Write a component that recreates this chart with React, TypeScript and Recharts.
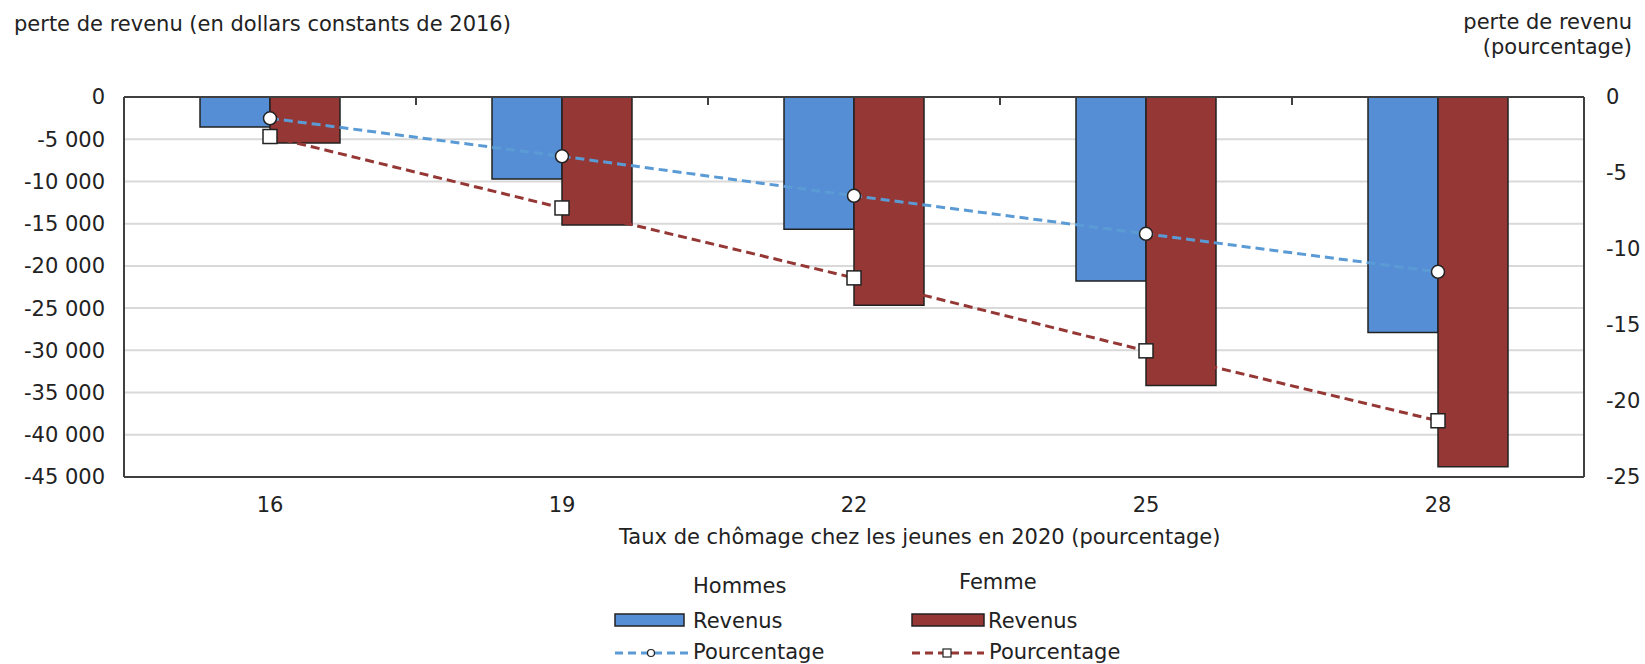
import React from 'react';
import { ComposedChart, Bar, Line, XAxis, YAxis, CartesianGrid, ReferenceLine } from 'recharts';

const categories = ['16', '19', '22', '25', '28'];
const hommesRevenus = [-3550, -9700, -15650, -21800, -27900];
const femmeRevenus = [-5450, -15150, -24650, -34150, -43800];
const hommesPct = [-1.4, -3.9, -6.5, -9.0, -11.5];
const femmePct = [-2.6, -7.3, -11.9, -16.7, -21.3];
const leftTicks = [0, -5000, -10000, -15000, -20000, -25000, -30000, -35000, -40000, -45000];
const rightTicks = [0, -5, -10, -15, -20, -25];

const BLUE = '#558ed5';
const BLUE_LINE = '#5b9bd5';
const RED = '#953735';
const AXIS = '#404040';
const TEXT = '#222';
const FONT = '"DejaVu Sans", Verdana, sans-serif';

const LEFT_MIN = -45000;
// short tick marks hanging from the zero line, about 8px of the 380px plot
const TICK_LEN = (-LEFT_MIN * 8) / 380;

const chartData = categories.map((c, i) => ({
  cat: c,
  hRev: hommesRevenus[i],
  fRev: femmeRevenus[i],
  hPct: hommesPct[i],
  fPct: femmePct[i],
}));

const fmtThousands = (v: number) => {
  const s = String(Math.abs(v)).replace(/\B(?=(\d{3})+(?!\d))/g, ' ');
  return v < 0 ? '-' + s : s;
};

const tickStyle = { fill: TEXT, fontSize: 21, fontFamily: FONT };

const CircleDot = (props: any) => {
  const { cx, cy } = props;
  if (cx == null || cy == null) return null;
  return <circle cx={cx} cy={cy} r={6.5} fill="#fff" stroke="#222" strokeWidth={1.5} />;
};

const SquareDot = (props: any) => {
  const { cx, cy } = props;
  if (cx == null || cy == null) return null;
  return <rect x={cx - 7} y={cy - 7} width={14} height={14} fill="#fff" stroke="#222" strokeWidth={1.5} />;
};

const LegendBox = () => (
  <svg width={1645} height={664} style={{ position: 'absolute', left: 0, top: 0, pointerEvents: 'none' }}>
    <g fontFamily={FONT} fontSize={21} fill={TEXT}>
      <text x={693} y={593}>Hommes</text>
      <text x={959} y={589}>Femme</text>

      <rect x={615} y={614} width={69} height={12} fill={BLUE} stroke="#222" strokeWidth={1.5} />
      <text x={693} y={628}>Revenus</text>
      <rect x={912} y={614} width={72} height={12} fill={RED} stroke="#222" strokeWidth={1.5} />
      <text x={988} y={628}>Revenus</text>

      <line x1={615} y1={653} x2={690} y2={653} stroke={BLUE_LINE} strokeWidth={3} strokeDasharray="8 5" />
      <circle cx={651} cy={653} r={3.5} fill="#fff" stroke="#222" strokeWidth={1.2} />
      <text x={693} y={659}>Pourcentage</text>
      <line x1={912} y1={653} x2={984} y2={653} stroke={RED} strokeWidth={3} strokeDasharray="8 5" />
      <rect x={943} y={649} width={8} height={8} fill="#fff" stroke="#222" strokeWidth={1.2} />
      <text x={989} y={659}>Pourcentage</text>
    </g>
  </svg>
);

export default function App() {
  return (
    <div style={{ position: 'absolute', left: 0, top: 0, width: 1645, height: 664, background: '#fff', fontFamily: FONT, color: TEXT }}>
      <div style={{ position: 'absolute', left: 14, top: 11, fontSize: 21, lineHeight: '26px', whiteSpace: 'nowrap' }}>
        perte de revenu (en dollars constants de 2016)
      </div>
      <div style={{ position: 'absolute', right: 13, top: 10, fontSize: 21, lineHeight: '25px', textAlign: 'right', whiteSpace: 'nowrap' }}>
        perte de revenu
        <br />
        (pourcentage)
      </div>
      <div style={{ position: 'absolute', left: 619, top: 524, fontSize: 21, lineHeight: '26px', whiteSpace: 'nowrap' }}>
        Taux de chômage chez les jeunes en 2020 (pourcentage)
      </div>

      <ComposedChart
        width={1645}
        height={664}
        data={chartData}
        margin={{ top: 97, right: 0, bottom: 147, left: 0 }}
        barGap={0}
        barSize={70}
      >
        <CartesianGrid yAxisId="left" vertical={false} stroke="#d9d9d9" strokeWidth={2} />
        <XAxis
          dataKey="cat"
          height={40}
          tick={tickStyle}
          tickLine={false}
          tickSize={0}
          tickMargin={20}
          axisLine={{ stroke: AXIS, strokeWidth: 2 }}
        />
        <YAxis
          yAxisId="left"
          width={124}
          domain={[LEFT_MIN, 0]}
          ticks={leftTicks}
          interval={0}
          tickFormatter={fmtThousands}
          tick={tickStyle}
          tickLine={false}
          tickSize={0}
          tickMargin={19}
          axisLine={{ stroke: AXIS, strokeWidth: 2 }}
        />
        <YAxis
          yAxisId="right"
          orientation="right"
          width={61}
          domain={[-25, 0]}
          ticks={rightTicks}
          interval={0}
          tick={{ ...tickStyle, textAnchor: 'start' }}
          tickLine={false}
          tickSize={0}
          tickMargin={22}
          axisLine={{ stroke: AXIS, strokeWidth: 2 }}
        />
        <ReferenceLine yAxisId="left" y={0} stroke={AXIS} strokeWidth={2} />
        {categories.slice(1).map((c) => (
          <ReferenceLine
            key={c}
            yAxisId="left"
            position="start"
            segment={[{ x: c, y: 0 }, { x: c, y: -TICK_LEN }]}
            stroke={AXIS}
            strokeWidth={2}
          />
        ))}
        <Bar yAxisId="left" dataKey="hRev" name="Hommes Revenus" fill={BLUE} stroke="#222" strokeWidth={1.5} isAnimationActive={false} />
        <Bar yAxisId="left" dataKey="fRev" name="Femme Revenus" fill={RED} stroke="#222" strokeWidth={1.5} isAnimationActive={false} />
        <Line
          yAxisId="right"
          dataKey="hPct"
          name="Hommes Pourcentage"
          stroke={BLUE_LINE}
          strokeWidth={3}
          strokeDasharray="9 5"
          dot={<CircleDot />}
          activeDot={false}
          isAnimationActive={false}
        />
        <Line
          yAxisId="right"
          dataKey="fPct"
          name="Femme Pourcentage"
          stroke={RED}
          strokeWidth={3}
          strokeDasharray="9 5"
          dot={<SquareDot />}
          activeDot={false}
          isAnimationActive={false}
        />
      </ComposedChart>
      <LegendBox />
    </div>
  );
}
